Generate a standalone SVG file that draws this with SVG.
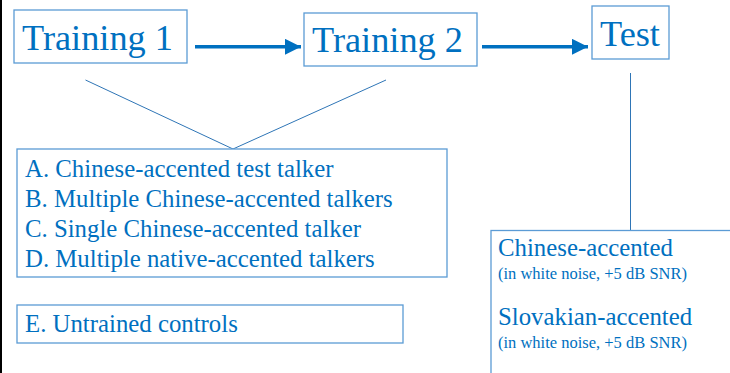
<svg xmlns="http://www.w3.org/2000/svg" width="730" height="373" viewBox="0 0 730 373">
  <defs>
    <style>
      .box { fill: #ffffff; stroke: #5b9bd5; stroke-width: 1.3; }
      .link { fill: none; stroke: #2e75b6; stroke-width: 1; }
      .flow { fill: none; stroke: #0070c0; stroke-width: 3.5; }
      text { font-family: 'Liberation Serif', 'Times New Roman', serif; fill: #0070c0; }
      .title { font-size: 36.3px; }
      .item { font-size: 24.8px; }
      .note { font-size: 16.5px; }
    </style>
    <marker id="head" viewBox="0 0 16 16" refX="16" refY="8" markerWidth="16" markerHeight="16" markerUnits="userSpaceOnUse" orient="auto">
      <path d="M0,0 L16,8 L0,16 Z" fill="#0070c0"/>
    </marker>
  </defs>

  <rect width="730" height="373" fill="#ffffff"/>
  <rect x="0" y="0" width="2" height="373" fill="#000000"/>

  <g id="connectors">
    <line class="flow" x1="195" y1="46.8" x2="301" y2="46.8" marker-end="url(#head)"/>
    <line class="flow" x1="482" y1="46.8" x2="588" y2="46.8" marker-end="url(#head)"/>
    <polyline class="link" points="85.5,80 233,149 386,80"/>
    <line class="link" x1="630.5" y1="73" x2="630.5" y2="230"/>
  </g>

  <g id="training1">
    <rect class="box" x="14" y="10" width="173" height="53"/>
    <text class="title" x="22" y="50">Training 1</text>
  </g>

  <g id="training2">
    <rect class="box" x="304" y="13" width="173" height="53"/>
    <text class="title" x="312" y="52">Training 2</text>
  </g>

  <g id="test">
    <rect class="box" x="592" y="6" width="77" height="53"/>
    <text class="title" x="600" y="46">Test</text>
  </g>

  <g id="groups">
    <rect class="box" x="17" y="149" width="430" height="128"/>
    <text class="item" x="25" y="176.5">A. Chinese-accented test talker</text>
    <text class="item" x="25" y="206.5">B. Multiple Chinese-accented talkers</text>
    <text class="item" x="25" y="236.5">C. Single Chinese-accented talker</text>
    <text class="item" x="25" y="266.5">D. Multiple native-accented talkers</text>
  </g>

  <g id="controls">
    <rect class="box" x="17" y="305" width="386" height="38"/>
    <text class="item" x="25" y="332">E. Untrained controls</text>
  </g>

  <g id="test-conditions">
    <rect class="box" x="491" y="230.5" width="260" height="160"/>
    <text class="item" x="498" y="256">Chinese-accented</text>
    <text class="note" x="498" y="279">(in white noise, +5 dB SNR)</text>
    <text class="item" x="498" y="325">Slovakian-accented</text>
    <text class="note" x="498" y="348">(in white noise, +5 dB SNR)</text>
  </g>
</svg>
